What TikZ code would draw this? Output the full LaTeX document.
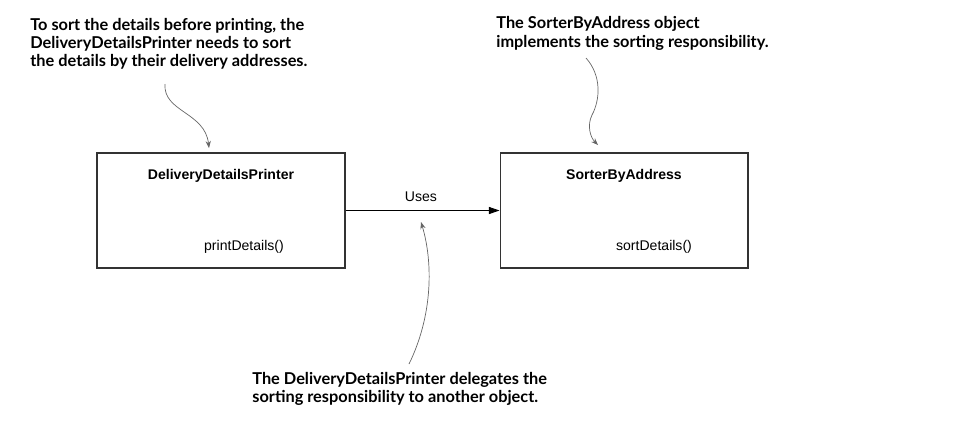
\documentclass[tikz,border=0pt]{standalone}
\usepackage{fontspec}
\setmainfont{Liberation Sans}
\newfontfamily\notefont{Lato}
\usetikzlibrary{arrows.meta,positioning}

\begin{document}
\begin{tikzpicture}[x=0.02cm,y=-0.02cm]
\tikzstyle{every node}+=[inner sep=0pt]
\tikzstyle{classbox}=[draw=black!80,line width=0.6pt,minimum width=4.96cm,minimum height=2.3cm]
\tikzstyle{note}=[anchor=north west,align=left,font=\notefont\bfseries\fontsize{9.3}{10.5}\selectfont]
\tikzstyle{callout}=[draw=black!60,line width=0.4pt,-{Stealth[length=4pt,width=3pt]}]
\useasboundingbox (0,0) rectangle (972,427);
% classes
\node [classbox] (printer) at (221,210.5) {};
\node [font=\bfseries\fontsize{8}{9}\selectfont] (printertitle) at (221,176) {DeliveryDetailsPrinter};
\node [font=\fontsize{8}{9}\selectfont] (printerop) at (244,247) {printDetails()};
\node [classbox] (sorter) at (624,210.5) {};
\node [font=\bfseries\fontsize{8}{9}\selectfont] (sortertitle) at (624,176) {SorterByAddress};
\node [font=\fontsize{8}{9}\selectfont] (sorterop) at (654,247) {sortDetails()};
\draw [black,line width=0.5pt,-{Triangle[length=6pt,width=4pt]}] (printer.east) -- (sorter.west);
\node [font=\fontsize{8}{9}\selectfont] (uses) at (421,197) {Uses};
% notes
\node [note] (note1) at (30,17.5) {To sort the details before printing, the\\DeliveryDetailsPrinter needs to sort\\the details by their delivery addresses.};
\node [note] (note2) at (496,16.5) {The SorterByAddress object\\implements the sorting responsibility.};
\node [note] (note3) at (252,372) {The DeliveryDetailsPrinter delegates the\\sorting responsibility to another object.};
\coordinate (c1s) at (165,84);
\coordinate (c1e) at (209,148);
\coordinate (c2s) at (586,58);
\coordinate (c2m) at (592,115);
\coordinate (c2e) at (598,145);
\coordinate (c3s) at (409,364);
\coordinate (c3e) at (421,222);
\draw [callout] (c1s) .. controls (163,112) and (205,112) .. (c1e);
\draw [callout] (c2s) .. controls (602,76) and (600,100) .. (c2m) .. controls (587,125) and (590,137) .. (c2e);
\draw [callout] (c3s) .. controls (433,315) and (433,262) .. (c3e);
\end{tikzpicture}
\end{document}
